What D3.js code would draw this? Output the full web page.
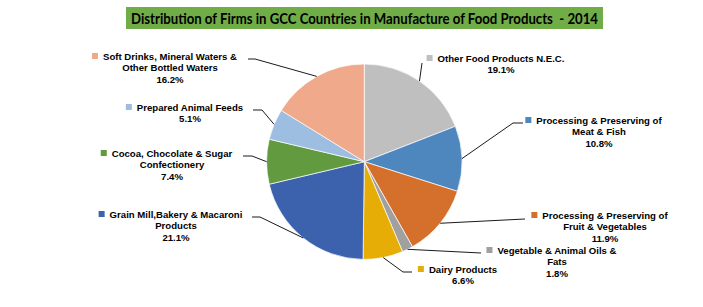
<!DOCTYPE html>
<html><head><meta charset="utf-8">
<script src="https://cdn.jsdelivr.net/npm/d3@7"></script>
<style>html,body{margin:0;padding:0;background:#fff;}svg{display:block;}</style>
</head><body>
<svg id="chart" width="703" height="307"></svg>
<script>
const title = "Distribution of Firms in GCC Countries in Manufacture of Food Products  - 2014";
const categories = [
  "Other Food Products N.E.C.",
  "Processing & Preserving of Meat & Fish",
  "Processing & Preserving of Fruit & Vegetables",
  "Vegetable & Animal Oils & Fats",
  "Dairy Products",
  "Grain Mill,Bakery & Macaroni Products",
  "Cocoa, Chocolate & Sugar Confectionery",
  "Prepared Animal Feeds",
  "Soft Drinks, Mineral Waters & Other Bottled Waters"
];
const values = [19.1, 10.8, 11.9, 1.8, 6.6, 21.1, 7.4, 5.1, 16.2];
const labelLines = [
  ["Other Food Products N.E.C."],
  ["Processing & Preserving of", "Meat & Fish"],
  ["Processing & Preserving of", "Fruit & Vegetables"],
  ["Vegetable & Animal Oils &", "Fats"],
  ["Dairy Products"],
  ["Grain Mill,Bakery & Macaroni", "Products"],
  ["Cocoa, Chocolate & Sugar", "Confectionery"],
  ["Prepared Animal Feeds"],
  ["Soft Drinks, Mineral Waters &", "Other Bottled Waters"]
];
const colors = ["#BFBFBF", "#4E87BD", "#D4702B", "#A0A0A0", "#E5AD06", "#3D62AD", "#629A40", "#9DBDE1", "#F0A98A"];

// layout (label block center x, first line y, leader anchor near label, elbow)
const layout = [
  {cx: 501, y: 58, a: [422, 63], e: [422, 63]},
  {cx: 599, y: 120, a: [523, 123], e: [513, 123]},
  {cx: 605, y: 215, a: [525, 219], e: [525, 219]},
  {cx: 557, y: 250, a: [481, 253], e: [481, 253]},
  {cx: 463, y: 269, a: [412, 272], e: [403, 272]},
  {cx: 176, y: 214, a: [252, 217], e: [260, 217]},
  {cx: 172, y: 153, a: [243, 156], e: [252, 156]},
  {cx: 190, y: 107, a: [253, 110], e: [262, 110]},
  {cx: 170, y: 56, a: [248, 59], e: [255, 59]}
];

const svg = d3.select("#chart");
const center = [364.3, 161.7], R = 97.7;

// title
svg.append("rect").attr("x", 126).attr("y", 7).attr("width", 477).attr("height", 22).attr("fill", "#70AD47");
svg.append("text").attr("x", 131).attr("y", 23.5)
  .attr("font-family", "Lato, 'Open Sans', sans-serif").attr("font-weight", "bold").attr("font-size", 15)
  .attr("fill", "#000").attr("textLength", 467).attr("lengthAdjust", "spacingAndGlyphs")
  .style("white-space", "pre")
  .text(title);

const pie = d3.pie().sort(null).value(d => d)(values);
const arc = d3.arc().innerRadius(0).outerRadius(R);
const g = svg.append("g").attr("transform", `translate(${center})`);
g.selectAll("path").data(pie).join("path")
  .attr("d", arc).attr("fill", (d, i) => colors[i])
  .attr("stroke", "#fff").attr("stroke-width", 0.7);

// leader lines
const edge = d3.arc().innerRadius(R).outerRadius(R);
const leaders = svg.append("g");
pie.forEach((d, i) => {
  const c = edge.centroid(d);
  const p = [c[0] + center[0], c[1] + center[1]];
  const L = layout[i];
  leaders.append("path")
    .attr("d", d3.line()([L.a, L.e, p]))
    .attr("fill", "none").attr("stroke", "#000").attr("stroke-width", 0.9);
});

// labels
const fmt = d3.format(".1f");
const lab = svg.append("g").attr("font-family", "'Liberation Sans', Arial, sans-serif")
  .attr("font-weight", "bold").attr("font-size", 9.6).attr("fill", "#000");
pie.forEach((d, i) => {
  const L = layout[i];
  const lines = labelLines[i].concat([fmt(values[i]) + "%"]);
  let first;
  lines.forEach((t, k) => {
    const el = lab.append("text").attr("x", L.cx).attr("y", L.y + k * 11.5 + 3.5)
      .attr("text-anchor", "middle").text(t);
    if (k === 0) first = el;
  });
  const w = first.node().getComputedTextLength();
  lab.append("rect").attr("x", L.cx - w / 2 - 11).attr("y", L.y - 3)
    .attr("width", 6).attr("height", 6).attr("fill", colors[i]);
});
</script>
</body></html>
